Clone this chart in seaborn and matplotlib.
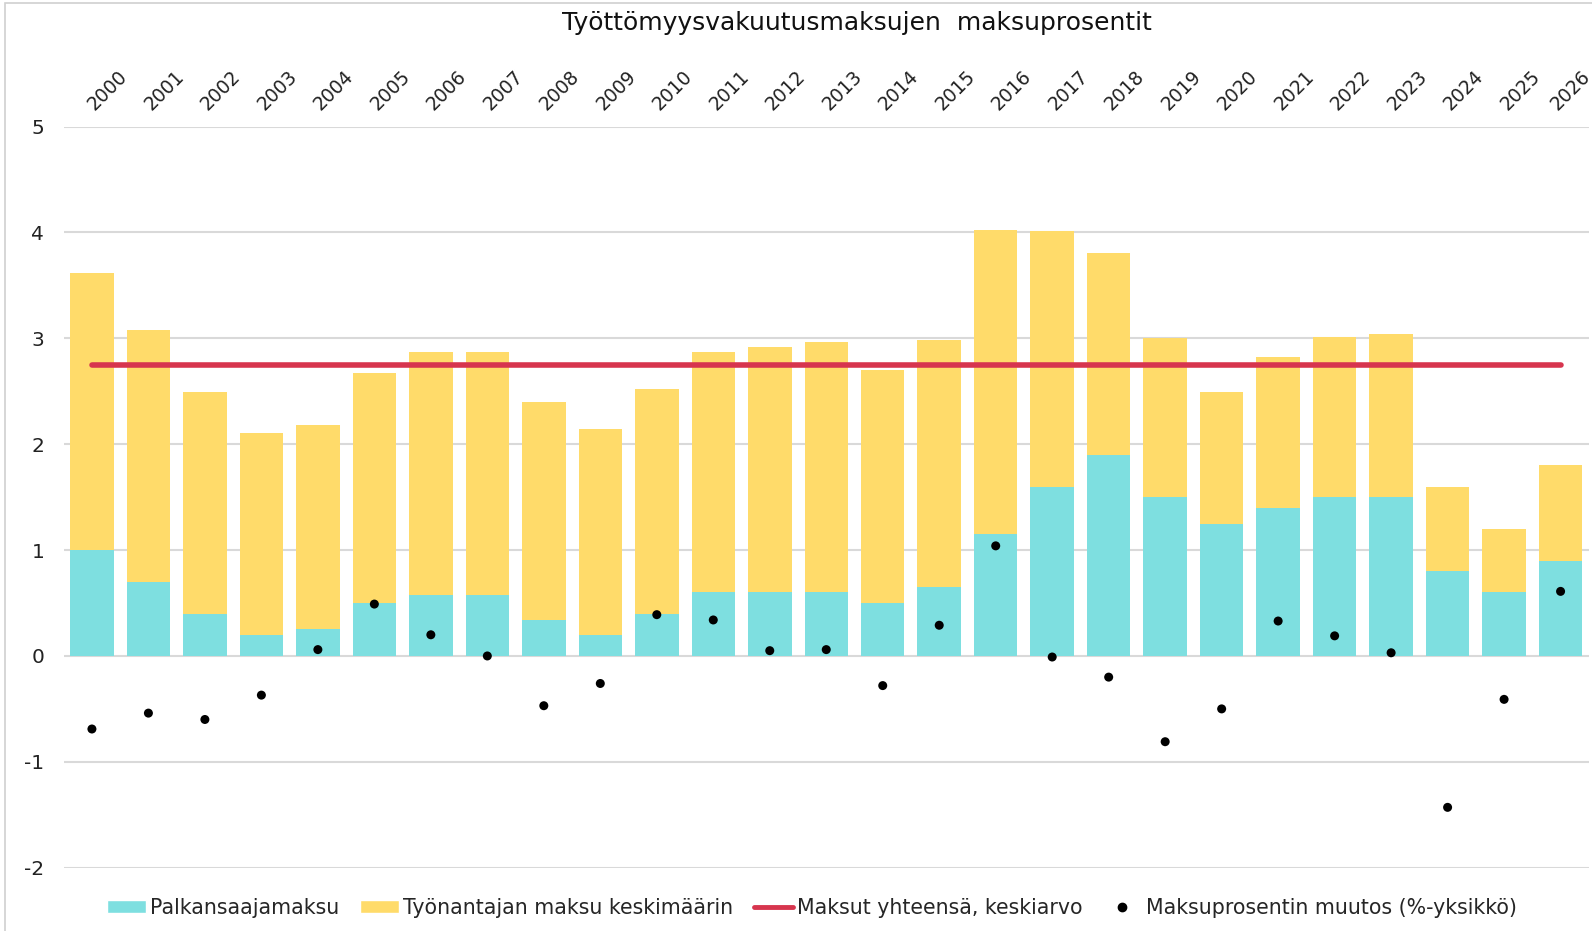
import matplotlib
matplotlib.use("Agg")
import matplotlib.pyplot as plt
import matplotlib.transforms as mtransforms
import seaborn as sns
import pandas as pd
from matplotlib.patches import Patch, Rectangle
from matplotlib.lines import Line2D

sns.set_theme(style="white")
plt.rcParams['font.family'] = ['DejaVu Sans']

years = [str(y) for y in range(2000, 2027)]
employee = [1.0, 0.7, 0.4, 0.2, 0.25, 0.5, 0.58, 0.58, 0.34, 0.2, 0.4, 0.6, 0.6, 0.6,
            0.5, 0.65, 1.15, 1.6, 1.9, 1.5, 1.25, 1.4, 1.5, 1.5, 0.8, 0.6, 0.9]
total = [3.62, 3.08, 2.49, 2.11, 2.18, 2.67, 2.87, 2.87, 2.40, 2.14, 2.52, 2.87, 2.92, 2.97,
         2.70, 2.98, 4.02, 4.01, 3.81, 3.00, 2.49, 2.82, 3.01, 3.04, 1.60, 1.20, 1.80]
change = [-0.69, -0.54, -0.60, -0.37, 0.06, 0.49, 0.20, 0.0, -0.47, -0.26, 0.39, 0.34, 0.05, 0.06,
          -0.28, 0.29, 1.04, -0.01, -0.20, -0.81, -0.50, 0.33, 0.19, 0.03, -1.43, -0.41, 0.61]
avg_total = 2.75
yticks = [-2, -1, 0, 1, 2, 3, 4, 5]

c_emp = "#7EDFE0"
c_empl = "#FFDB6A"
c_red = "#D7354E"

df = pd.DataFrame({"year": years, "employee": employee, "total": total, "change": change})

fig = plt.figure(figsize=(15.92, 9.31), dpi=100)
ax = fig.add_axes([0.040, 0.068, 0.958, 0.796])

# stacked bars: total first, employee share over it
sns.barplot(data=df, x="year", y="total", color=c_empl, width=0.77, saturation=1,
            linewidth=0, ax=ax)
sns.barplot(data=df, x="year", y="employee", color=c_emp, width=0.77, saturation=1,
            linewidth=0, ax=ax)
ax.plot([0, len(years) - 1], [avg_total, avg_total], color=c_red, lw=4, zorder=4)
sns.scatterplot(data=df, x="year", y="change", color="black", s=42, edgecolor="none", zorder=5, ax=ax)

ax.set_ylim(-2, 5)
ax.set_xlim(-0.5, len(years) - 0.5)
ax.set_yticks(yticks)
ax.set_yticklabels([str(t) for t in yticks], fontsize=14.5, color="#222222")
ax.yaxis.grid(True, color="#D9D9D9", lw=1.5)
ax.set_axisbelow(True)
ax.set_xlabel("")
ax.set_ylabel("")
for s in ax.spines.values():
    s.set_visible(False)

ax.xaxis.tick_top()
ax.set_xticks(range(len(years)))
ax.set_xticklabels(years, rotation=45, ha="left", rotation_mode="anchor", fontsize=13.5, color="#222222")
ax.tick_params(axis="x", length=0, pad=9)
ax.tick_params(axis="y", length=0, pad=14)
# nudge year labels right, keep the last one inside the figure
shift = mtransforms.ScaledTranslation(6 / 100, 0, fig.dpi_scale_trans)
for lbl in ax.get_xticklabels()[:-1]:
    lbl.set_transform(lbl.get_transform() + shift)

fig.text(0.538, 0.975, "Työttömyysvakuutusmaksujen  maksuprosentit", ha="center", va="center",
         fontsize=18, color="#111111")

handles = [
    Patch(facecolor=c_emp, label="Palkansaajamaksu"),
    Patch(facecolor=c_empl, label="Työnantajan maksu keskimäärin"),
    Line2D([0], [0], color=c_red, lw=3.5, label="Maksut yhteensä, keskiarvo"),
    Line2D([0], [0], marker="o", color="black", ls="none", markersize=6, label="Maksuprosentin muutos (%-yksikkö)"),
]
fig.legend(handles=handles, loc="center", bbox_to_anchor=(0.51, 0.025), ncol=4, frameon=False,
           fontsize=14.8, handlelength=1.9, handleheight=0.55, handletextpad=0.2, columnspacing=1.0)

fig.patches.append(Rectangle((0.003, -0.01), 1.2, 1.007, transform=fig.transFigure, fill=False,
                             edgecolor="#D0D0D0", lw=1.2))

fig.savefig("out.png", dpi=100)
